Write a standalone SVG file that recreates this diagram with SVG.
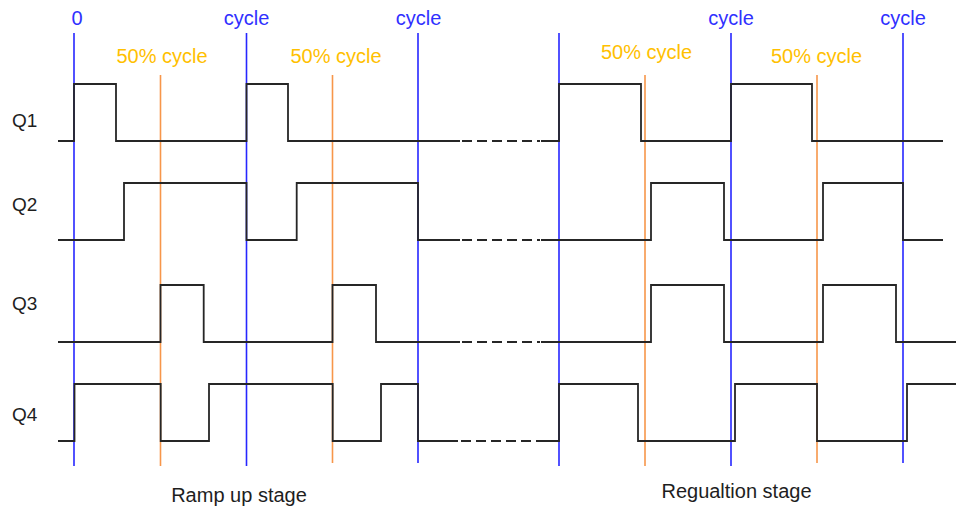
<svg xmlns="http://www.w3.org/2000/svg" width="956" height="508" viewBox="0 0 956 508">
<style>
.bg{fill:#ffffff}
.blue{stroke:#2626ff;stroke-width:1.6;fill:none}
.orange{stroke:#f7964a;stroke-width:1.6;fill:none}
.sig{stroke:#262626;stroke-width:1.8;fill:none;stroke-linejoin:miter}
.dash{stroke:#262626;stroke-width:1.8;fill:none;stroke-dasharray:10 5}
text{font-family:"Liberation Sans",Arial,sans-serif}
.tb{fill:#3030ff;font-size:20px;text-anchor:middle}
.to{fill:#ffc000;font-size:20px;text-anchor:middle}
.tq{fill:#1e1e1e;font-size:19px}
.ts{fill:#1e1e1e;font-size:20px;text-anchor:middle}
</style>
<rect class="bg" x="0" y="0" width="956" height="508"/>
<g id="gridlines">
<line class="blue" x1="74" y1="33" x2="74" y2="466"/>
<line class="blue" x1="246.5" y1="33" x2="246.5" y2="466"/>
<line class="blue" x1="418" y1="33" x2="418" y2="463"/>
<line class="blue" x1="559" y1="33" x2="559" y2="466"/>
<line class="blue" x1="731" y1="33" x2="731" y2="466"/>
<line class="blue" x1="903" y1="33" x2="903" y2="463"/>
<line class="orange" x1="160.5" y1="75" x2="160.5" y2="466"/>
<line class="orange" x1="332.5" y1="75" x2="332.5" y2="463"/>
<line class="orange" x1="645" y1="75" x2="645" y2="466"/>
<line class="orange" x1="817" y1="75" x2="817" y2="463"/>
</g>
<g id="Q1">
<text class="tq" x="12" y="127">Q1</text>
<path class="sig" d="M58,141 H74 V84 H116 V141 H246.5 V84 H288 V141 H460"/>
<line class="dash" x1="462" y1="141" x2="540" y2="141"/>
<path class="sig" d="M541,141 H559 V84 H641 V141 H731 V84 H812 V141 H943"/>
</g>
<g id="Q2">
<text class="tq" x="12" y="211">Q2</text>
<path class="sig" d="M58,240 H124 V183 H246.5 V240 H296.7 V183 H418 V240 H460"/>
<line class="dash" x1="462" y1="240" x2="540" y2="240"/>
<path class="sig" d="M541,240 H651 V183 H724 V240 H823 V183 H903 V240 H943"/>
</g>
<g id="Q3">
<text class="tq" x="12" y="310">Q3</text>
<path class="sig" d="M58,342 H160.5 V285 H203.7 V342 H332.5 V285 H376 V342 H460"/>
<line class="dash" x1="462" y1="342" x2="540" y2="342"/>
<path class="sig" d="M541,342 H651 V285 H724 V342 H823 V285 H896 V342 H956"/>
</g>
<g id="Q4">
<text class="tq" x="12" y="421">Q4</text>
<path class="sig" d="M58,441 H74.5 V384 H160.7 V441 H209 V384 H332.7 V441 H381 V384 H418 V441 H458"/>
<line class="dash" x1="461" y1="441" x2="537" y2="441"/>
<path class="sig" d="M537,441 H559 V384 H638 V441 H735 V384 H817 V441 H907 V384 H956"/>
</g>
<g id="labels">
<text class="tb" x="77" y="25">0</text>
<text class="tb" x="246.5" y="25">cycle</text>
<text class="tb" x="418.5" y="25">cycle</text>
<text class="tb" x="731" y="25">cycle</text>
<text class="tb" x="903" y="25">cycle</text>
<text class="to" x="162" y="63">50% cycle</text>
<text class="to" x="336" y="63">50% cycle</text>
<text class="to" x="646.5" y="59">50% cycle</text>
<text class="to" x="816.5" y="63">50% cycle</text>
<text class="ts" x="239" y="502">Ramp up stage</text>
<text class="ts" x="736.5" y="498">Regualtion stage</text>
</g>
</svg>
